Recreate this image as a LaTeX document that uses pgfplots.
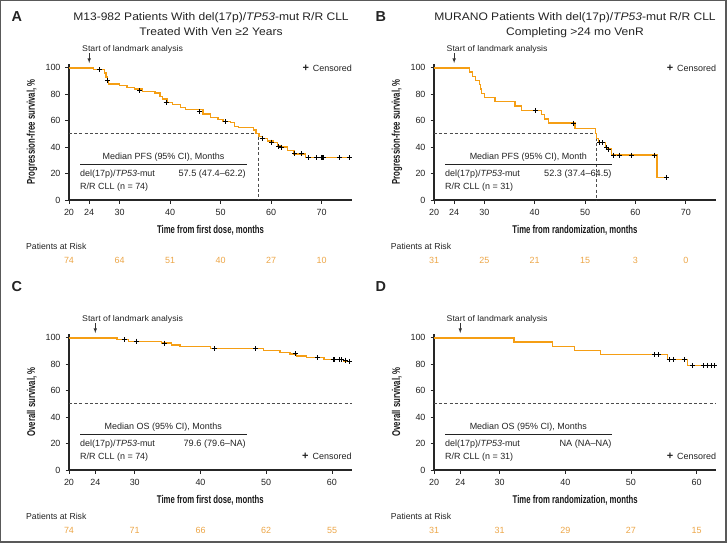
\documentclass[border=0pt]{standalone}
\usepackage{fontspec}
\setmainfont{Liberation Sans}
\usepackage{pgfplots}
\pgfplotsset{compat=1.18}
\definecolor{kmorange}{RGB}{245,158,20}
\definecolor{risk}{RGB}{236,166,72}
\definecolor{txt}{RGB}{35,35,35}
\newcommand\fs[1]{\fontsize{#1}{#1}\selectfont}
\newcommand\cond[1]{\scalebox{0.69}[1]{\bfseries #1}}
\newcommand\wide[1]{\scalebox{1.1}[1]{#1}}

\pgfplotsset{
  km/.style={
    scale only axis, anchor=south west, clip=false,
    height=136.3bp,
    axis lines=left, axis line style={-, line width=1.2bp, black!85},
    ymin=0, ymax=103, ytick={0,20,40,60,80,100},
    tick align=outside, major tick length=3.5bp,
    tick style={line width=0.9bp, black!85},
    tick label style={font=\fs{9}, text=txt},
    xticklabel style={yshift=-2.5bp},
    yticklabel style={xshift=-1.5bp},
    /pgf/number format/assume math mode=true,
    xlabel style={at={(axis description cs:0.5,-0.22)}, anchor=center, font=\fs{11.3}, text=black!90},
    ylabel style={at={(axis description cs:-0.131,0.5)}, anchor=center, font=\fs{11.3}, text=black!90},
  },
  kmline/.style={const plot, draw=kmorange, line width=1.3bp, mark=none},
  % plateau at 100 % drawn once more, on top
  kmtop/.style={sharp plot, draw=kmorange, line width=1.8bp, mark=none},
  cens/.style={only marks, mark=+, mark size=2.5bp, mark options={black, line width=1bp}},
  med/.style={black!70, line width=0.7bp, dash pattern=on 3bp off 2.2bp, mark=none},
}

\begin{document}
\begin{tikzpicture}
\path[use as bounding box] (0,0) rectangle (727bp,-543bp);
\draw[black!65, line width=1.2bp] (0.8bp,-0.8bp) rectangle (726bp,-542bp);

% ---------- A ----------
\begin{axis}[km, at={(69bp,-200bp)}, width=283bp,
    xmin=20, xmax=76, xtick={20,24,30,40,50,60,70},
    xlabel={\cond{Time from first dose, months}},
    ylabel={\cond{Progression-free survival, \%}}]
\addplot[med] coordinates {(20,50) (57.5,50) (57.5,0)};
\draw[-{latex}, black!80, line width=0.6bp] (axis cs:24,111) -- (axis cs:24,103.5);
\addplot[kmline] coordinates {
 (20,100) (24.8,98.6) (27.0,96) (27.3,93) (27.6,90.5) (27.8,87.6) (30.0,86.4)
 (31.5,85.1) (33,83.8) (34.5,82) (37,80.8) (38,78) (38.5,76.3) (39.5,73.9)
 (40.5,72) (42,69.9) (43,68.2) (46.5,65) (48,62.6) (49.5,60.6) (50.5,59.1)
 (52,58.6) (52.8,55.5) (53.5,55) (56.5,53) (57,50.5) (57.6,48) (58.3,46.7)
 (59.3,44.5) (60.5,43.7) (61.3,41) (62,40) (63.3,37.4) (64.5,34.8) (66.8,32) (76,32)};
\addplot[cens] coordinates {
 (26.1,98.6) (27.6,90.5) (34,82.6) (39.2,74) (45.8,66.7) (51,59.1) (58.2,46.7)
 (60.1,43.7) (61.5,40.5) (62,40) (64.7,34.8) (66,34.8) (67.4,32) (68.9,32)
 (70,32) (70.2,32) (70.4,32) (73.6,32) (75.5,32)};
\addplot[kmtop] coordinates {(20,100) (24.8,100)};
\end{axis}

% ---------- B ----------
\begin{axis}[km, at={(434bp,-200bp)}, width=282bp,
    xmin=20, xmax=76, xtick={20,24,30,40,50,60,70},
    xlabel={\cond{Time from randomization, months}},
    ylabel={\cond{Progression-free survival, \%}}]
\addplot[med] coordinates {(20,50) (52.3,50) (52.3,0)};
\draw[-{latex}, black!80, line width=0.6bp] (axis cs:24,111) -- (axis cs:24,103.5);
\addplot[kmline] coordinates {
 (20,100) (27.0,96.8) (27.7,93.5) (28.3,90.3) (29.1,87.1) (29.3,83.9) (29.5,80.6)
 (30.0,77.4) (32.1,74.2) (36.1,71.0) (37.4,67.7) (41.4,64.5) (41.9,61.3)
 (42.8,58.1) (48,54.2) (52.1,50.5) (52.3,46.6) (52.6,43.3) (54.0,40.5)
 (54.3,38.5) (55.2,34) (64.3,17.1) (66.2,17.1)};
\addplot[cens] coordinates {
 (40.2,67.7) (47.8,58.1) (52.9,43.3) (53.5,43.3) (54.3,39.5) (54.6,38.3)
 (55.6,34) (56.8,34) (59.2,34) (63.8,34) (66.2,17.1)};
\addplot[kmtop] coordinates {(20,100) (27.0,100)};
\end{axis}

% ---------- C ----------
\begin{axis}[km, at={(69bp,-470bp)}, width=282.7bp,
    xmin=20, xmax=63, xtick={20,24,30,40,50,60},
    xlabel={\cond{Time from first dose, months}},
    ylabel={\cond{Overall survival, \%}}]
\addplot[med] coordinates {(20,50) (63,50)};
\draw[-{latex}, black!80, line width=0.6bp] (axis cs:24,111) -- (axis cs:24,103.5);
\addplot[kmline] coordinates {
 (20,100) (27.3,98.6) (29.0,97.3) (34.1,95.9) (35.6,94.5) (36.9,93.2) (41.5,91.8)
 (49.6,90.4) (52.1,89.0) (53.6,87.7) (54.6,86.2) (56.1,84.8) (58.8,83.4)
 (61.8,81.9) (63,81.9)};
\addplot[cens] coordinates {
 (28.4,98.6) (30.2,97.3) (34.6,95.9) (42.1,91.8) (48.4,91.8) (54.4,87.7)
 (57.8,84.8) (60.2,83.4) (60.4,83.4) (61.1,83.4) (61.4,83.4) (62.0,83.0) (62.6,81.9)};
\addplot[kmtop] coordinates {(20,100) (27.3,100)};
\end{axis}

% ---------- D ----------
\begin{axis}[km, at={(434bp,-470bp)}, width=282.3bp,
    xmin=20, xmax=63, xtick={20,24,30,40,50,60},
    xlabel={\cond{Time from randomization, months}},
    ylabel={\cond{Overall survival, \%}}]
\addplot[med] coordinates {(20,50) (63,50)};
\draw[-{latex}, black!80, line width=0.6bp] (axis cs:24,111) -- (axis cs:24,103.5);
\addplot[kmline] coordinates {
 (20,100) (32.2,96.8) (38.0,93.5) (41.4,90.3) (45.4,87.1) (55.6,83.6) (58.6,79.1) (63,79.1)};
\addplot[cens] coordinates {
 (53.6,87.1) (54.2,87.1) (55.8,83.6) (56.5,83.6) (58.2,83.6) (59.4,79.1)
 (61.0,79.1) (61.7,79.1) (62.3,79.1) (62.8,79.1)};
\addplot[kmtop] coordinates {(20,100) (32.2,100)};
\end{axis}

% ---------- texts ----------
\begin{scope}[every node/.style={text=txt, inner sep=0pt}]
% panel letters
\node[font=\fs{14.5}\bfseries, anchor=base west] at (11.5bp,-21.5bp) {A};
\node[font=\fs{14.5}\bfseries, anchor=base west] at (375.5bp,-21.5bp) {B};
\node[font=\fs{14.5}\bfseries, anchor=base west] at (11.5bp,-291.5bp) {C};
\node[font=\fs{14.5}\bfseries, anchor=base west] at (375.5bp,-291.5bp) {D};
% titles
\node[font=\fs{11}, anchor=base] at (211bp,-20.7bp) {\wide{M13-982 Patients With del(17p)/\textit{TP53}-mut R/R CLL}};
\node[font=\fs{11}, anchor=base] at (211bp,-35.7bp) {\wide{Treated With Ven ≥2 Years}};
\node[font=\fs{11}, anchor=base] at (575bp,-20.7bp) {\wide{MURANO Patients With del(17p)/\textit{TP53}-mut R/R CLL}};
\node[font=\fs{11}, anchor=base] at (575bp,-35.7bp) {\wide{Completing >24 mo VenR}};
% landmark
\foreach \xx/\yy in {82/49, 446.5/49, 82/319.3, 446.5/319.3}
  \node[font=\fs{8.3}, anchor=west] at (\xx bp,-\yy bp) {\scalebox{1.06}[1]{Start of landmark analysis}};
% censored
\foreach \xx/\yy in {352/68, 716.3/68, 351.7/456.7, 716.3/456.7}
  \node[font=\fs{9}, anchor=east] at (\xx bp,-\yy bp) {{\fs{11}\bfseries +}\, Censored};
% median boxes
\node[font=\fs{9}] at (163.5bp,-156.7bp) {Median PFS (95\% CI), Months};
\node[font=\fs{9}] at (528.3bp,-156.7bp) {Median PFS (95\% CI), Month};
\node[font=\fs{9}] at (163.3bp,-426.7bp) {Median OS (95\% CI), Months};
\node[font=\fs{9}] at (528.3bp,-426.7bp) {Median OS (95\% CI), Months};
\draw[txt, line width=0.7bp] (80bp,-164bp) -- (247bp,-164bp);
\draw[txt, line width=0.7bp] (445bp,-164bp) -- (612.3bp,-164bp);
\draw[txt, line width=0.7bp] (80bp,-434bp) -- (247bp,-434bp);
\draw[txt, line width=0.7bp] (445bp,-434bp) -- (612.3bp,-434bp);
\foreach \xx/\yy in {80/174.3, 445/174.3, 80/444.3, 445/444.3}
  \node[font=\fs{9}, anchor=west] at (\xx bp,-\yy bp) {del(17p)/\textit{TP53}-mut};
\node[font=\fs{9}, anchor=west] at (80bp,-187bp) {R/R CLL (n = 74)};
\node[font=\fs{9}, anchor=west] at (445bp,-187bp) {R/R CLL (n = 31)};
\node[font=\fs{9}, anchor=west] at (80bp,-457bp) {R/R CLL (n = 74)};
\node[font=\fs{9}, anchor=west] at (445bp,-457bp) {R/R CLL (n = 31)};
\node[font=\fs{9.2}, anchor=east] at (246bp,-174.3bp) {57.5 (47.4--62.2)};
\node[font=\fs{9.2}, anchor=east] at (611.7bp,-174.3bp) {52.3 (37.4--64.5)};
\node[font=\fs{9.2}, anchor=east] at (246bp,-444.3bp) {79.6 (79.6--NA)};
\node[font=\fs{9.2}, anchor=east] at (611.7bp,-444.3bp) {NA (NA--NA)};
% patients at risk
\foreach \xx/\yy in {26/246.7, 390.7/246.7, 26/516.7, 390.7/516.7}
  \node[font=\fs{8.7}, anchor=west] at (\xx bp,-\yy bp) {Patients at Risk};
\foreach \xx/\n in {69/74, 119.5/64, 170.1/51, 220.6/40, 271.2/27, 321.7/10}
  \node[font=\fs{9}, text=risk] at (\xx bp,-260.7bp) {\n};
\foreach \xx/\n in {434/31, 484.4/25, 534.7/21, 585.1/15, 635.4/3, 685.8/0}
  \node[font=\fs{9}, text=risk] at (\xx bp,-260.7bp) {\n};
\foreach \xx/\n in {69/74, 134.7/71, 200.5/66, 266.2/62, 332/55}
  \node[font=\fs{9}, text=risk] at (\xx bp,-530.7bp) {\n};
\foreach \xx/\n in {434/31, 499.7/31, 565.3/29, 630.9/27, 696.6/15}
  \node[font=\fs{9}, text=risk] at (\xx bp,-530.7bp) {\n};
\end{scope}
\end{tikzpicture}
\end{document}
